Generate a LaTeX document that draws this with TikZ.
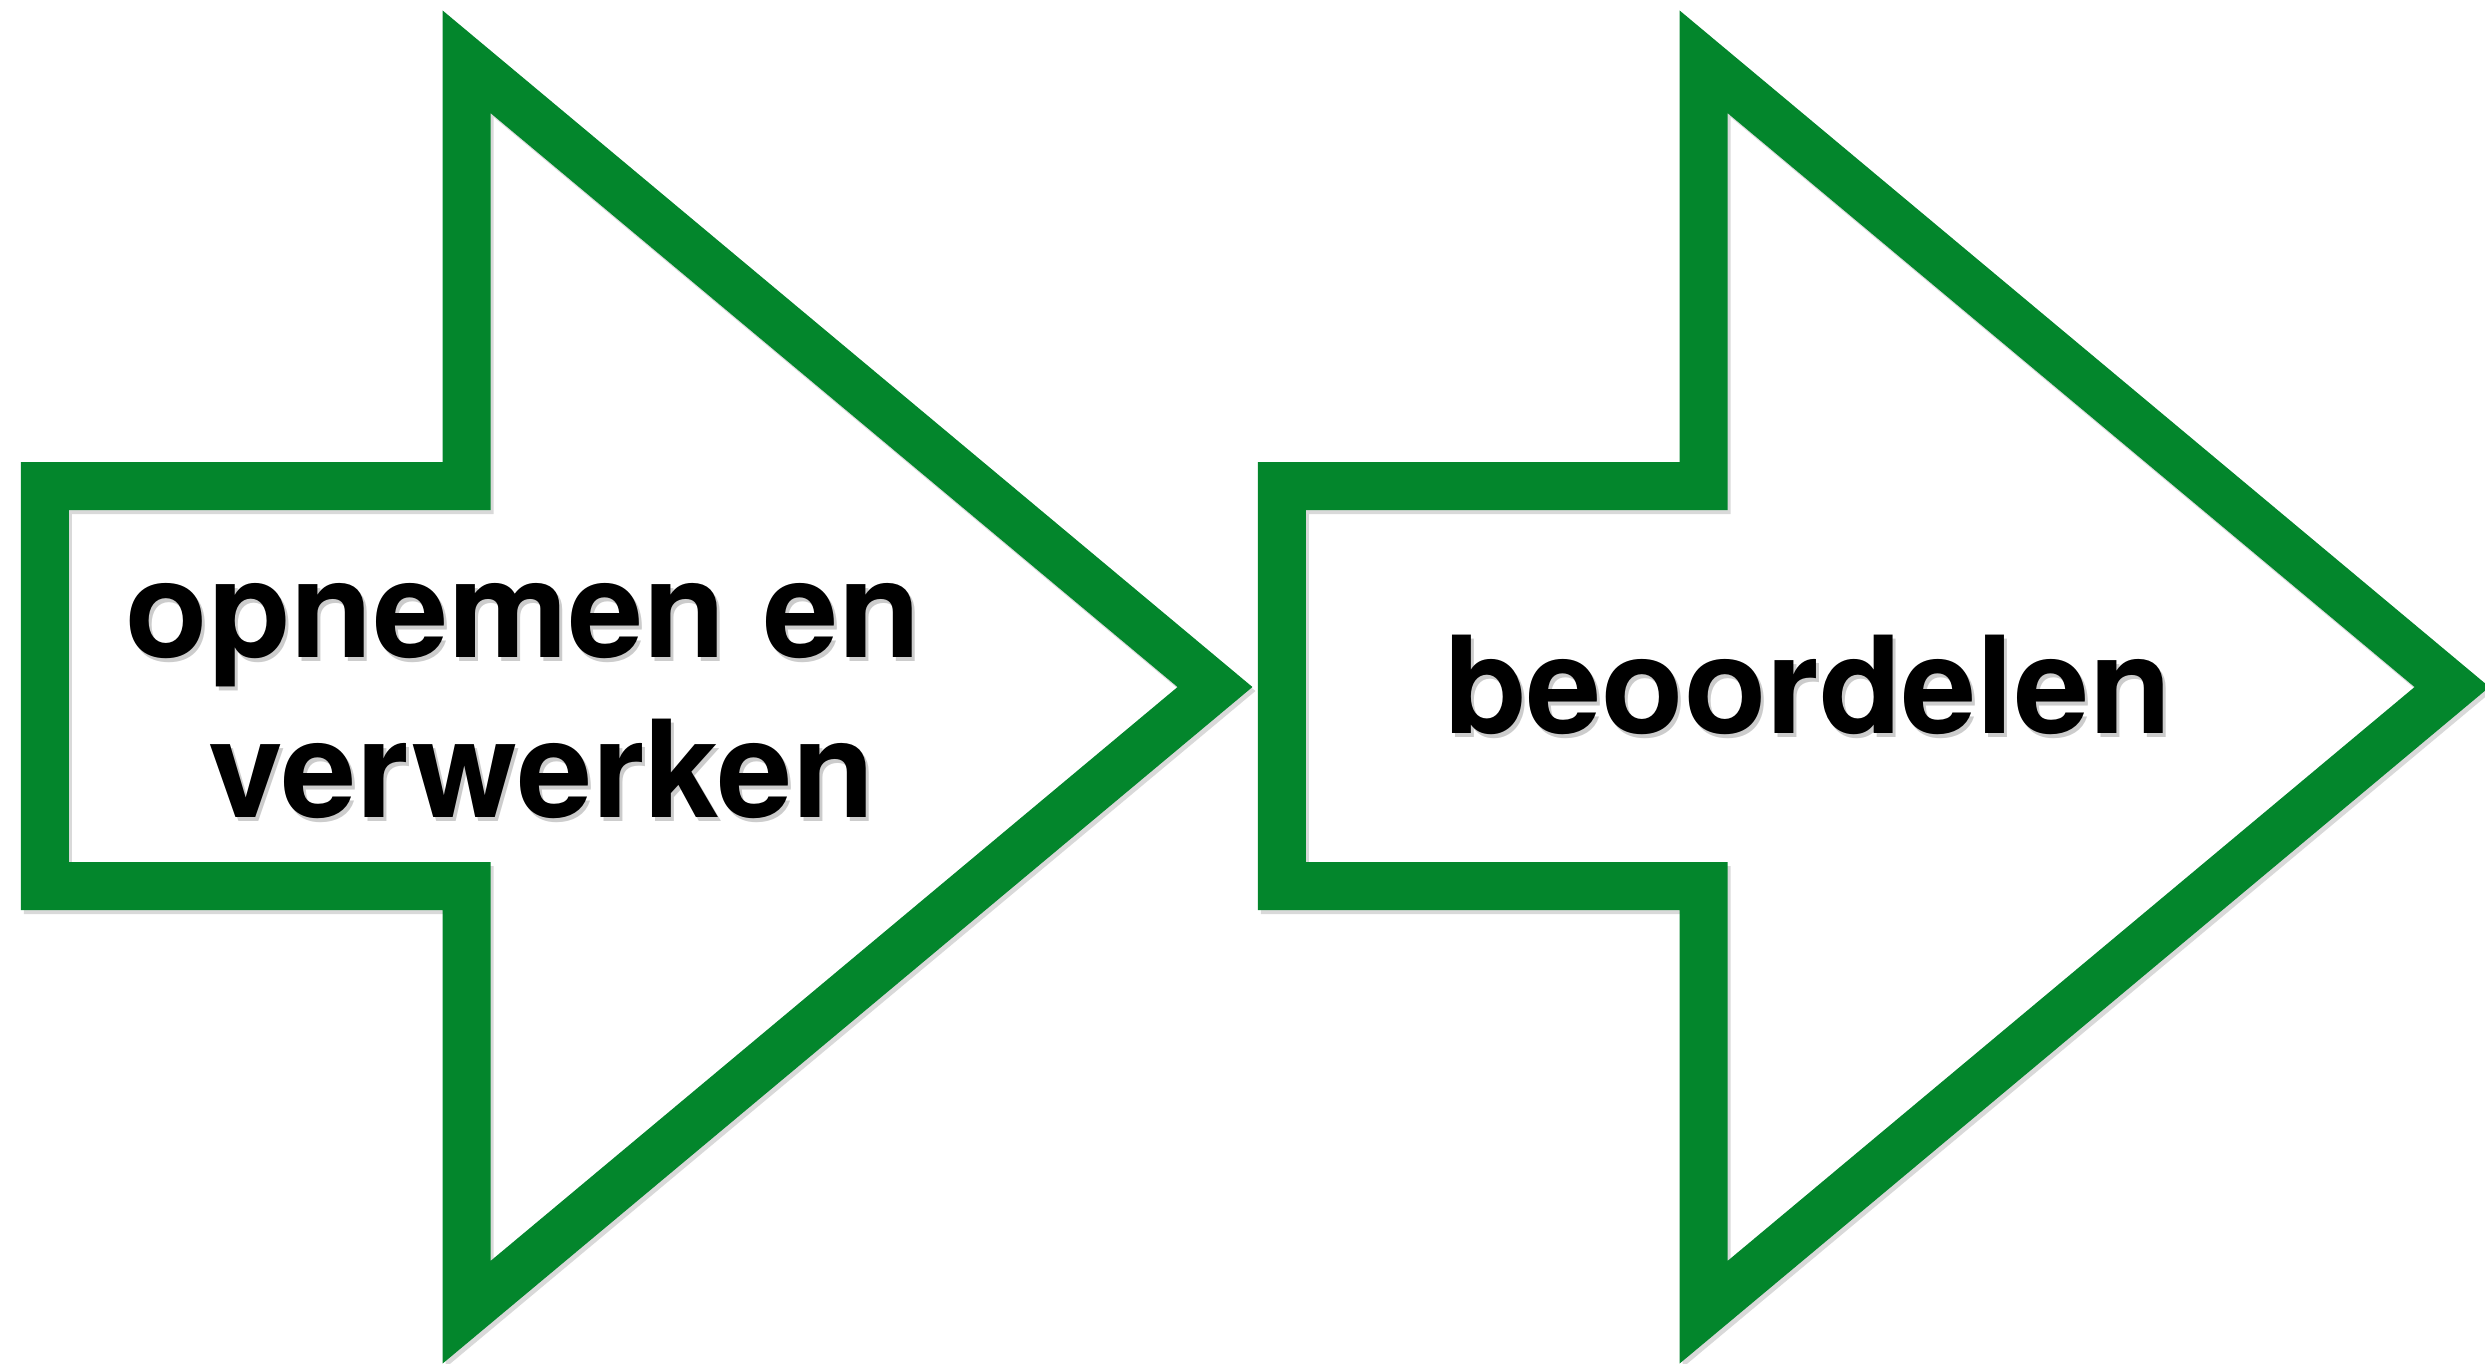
\documentclass[tikz,border=0pt]{standalone}
\usepackage{fontspec}
\setmainfont{TeX Gyre Heros}
\definecolor{arrowgreen}{RGB}{3,134,44}
\begin{document}
\begin{tikzpicture}[x=0.24pt,y=-0.24pt,
  arrowshape/.style={draw=arrowgreen,line width=11.52pt,miter limit=10,line join=miter},
  arrowshadow/.style={draw=black,opacity=0.15,line width=11.52pt,line join=miter},
  label/.style={font=\fontsize{32.4}{38.2}\selectfont\bfseries,text=black,inner sep=0pt,align=center,anchor=base},
  labelshadow/.style={label,text=black,opacity=0.2}]
\useasboundingbox (0,0) rectangle (2485,1363);
\foreach \dx/\nm in {0/a,1237/b}{
  \begin{scope}[xshift=\dx*0.24pt]
    \draw[arrowshadow] (47.8,490) -- (469.5,490) -- (469.5,65.7) -- (1218,691) -- (469.5,1316.3) -- (469.5,890) -- (47.8,890) -- cycle;
    \draw[arrowshape] (44.8,486) -- (466.5,486) -- (466.5,61.7) -- (1215,687) -- (466.5,1312.3) -- (466.5,886) -- (44.8,886) -- cycle;
  \end{scope}
}
\node[labelshadow] (t1s) at (545,821) {opnemen en\hspace*{0.278em}\\verwerken};
\node[label] (t1) at (542,817) {opnemen en\hspace*{0.278em}\\verwerken};
\node[labelshadow] (t2s) at (1811,737) {beoordelen};
\node[label] (t2) at (1808,733) {beoordelen};
\end{tikzpicture}
\end{document}
